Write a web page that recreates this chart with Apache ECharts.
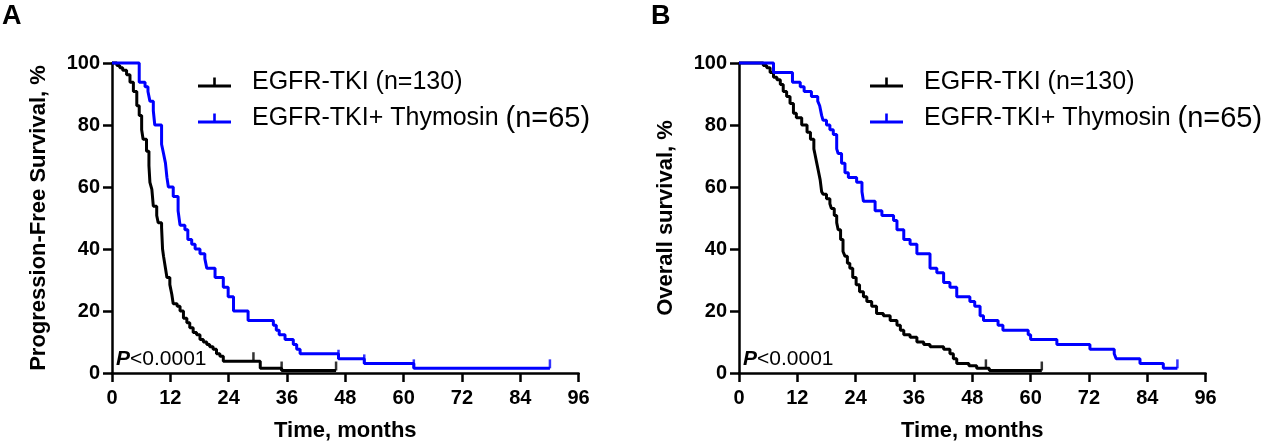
<!DOCTYPE html>
<html><head><meta charset="utf-8">
<script src="https://cdn.jsdelivr.net/npm/echarts@6/dist/echarts.min.js"></script>
<style>html,body{margin:0;padding:0;background:#fff}#c{width:1265px;height:445px}</style>
</head><body><div id="c"></div>
<script>
// ---------- data ----------
const groupNames = ['EGFR-TKI', 'EGFR-TKI+ Thymosin'];
const groupN = ['(n=130)', '(n=65)'];
const panelLetters = ['A', 'B'];
const yTitles = ['Progression-Free Survival, %', 'Overall survival, %'];
const xTitle = 'Time, months';
const pText = ['P', '<0.0001'];
const xTicks = [0, 12, 24, 36, 48, 60, 72, 84, 96];
const yTicks = [0, 20, 40, 60, 80, 100];

// Kaplan-Meier steps: [time (months), survival % after the drop]
const pfsEgfr = [[0,100],[1.0,99.2],[1.6,98.5],[2.2,97.7],[3.0,96.2],[3.7,93.8],[4.4,90.8],[5.1,86.2],[5.6,83.1],[6.1,78.5],[6.4,75.4],[7.1,71.5],[7.6,66.9],[7.8,61.5],[8.2,59.2],[8.5,53.8],[9.2,50.8],[9.5,48.5],[10.2,46.9],[10.4,40.0],[10.6,37.7],[11.0,33.8],[11.3,30.8],[11.9,28.5],[12.3,25.4],[12.6,22.3],[13.4,21.5],[14.0,20.0],[14.7,17.7],[15.4,16.2],[16.0,14.6],[16.7,13.1],[17.4,12.3],[18.1,10.8],[18.8,10.0],[19.5,9.2],[20.1,8.5],[20.8,7.7],[21.5,6.2],[22.2,5.4],[22.9,3.8],[30.5,1.5],[34.9,0.8],[46.1,0.8]];
const pfsThy = [[0,100],[5.6,93.8],[6.8,92.3],[7.4,90.8],[7.8,87.7],[8.5,84.6],[8.8,80.0],[10.2,73.8],[10.6,70.8],[11.0,67.7],[11.3,63.1],[11.6,60.0],[12.6,56.9],[13.6,52.3],[14.0,47.7],[15.0,46.2],[15.6,43.1],[16.4,41.5],[17.1,40.0],[18.1,38.5],[19.1,36.9],[19.5,33.8],[21.2,30.8],[22.9,27.7],[23.9,24.6],[25.0,20.0],[28.0,16.9],[33.2,15.4],[33.8,13.8],[34.4,12.3],[35.6,10.8],[37.3,9.2],[38.0,7.7],[38.7,6.2],[46.6,4.6],[51.9,3.1],[62.1,1.5],[90.1,1.5]];
const osEgfr = [[0,100],[5.0,99.2],[5.7,98.5],[6.4,96.9],[7.1,95.4],[7.8,94.6],[8.5,93.1],[9.1,90.8],[9.8,89.2],[10.5,86.9],[11.2,83.8],[11.8,82.3],[12.9,80.0],[14.0,77.7],[14.7,75.4],[15.4,72.3],[15.6,70.8],[16.0,67.7],[16.3,65.4],[16.7,62.3],[17.0,58.5],[17.3,57.7],[18.0,56.2],[18.7,54.6],[19.0,53.1],[19.6,50.8],[20.1,48.5],[20.4,46.2],[20.9,43.1],[21.4,39.2],[21.8,37.7],[22.3,35.4],[22.8,33.8],[23.4,30.8],[24.1,28.5],[24.8,26.2],[25.6,24.6],[26.3,23.1],[27.3,21.5],[28.3,19.2],[29.7,18.5],[31.1,16.9],[32.5,15.4],[33.2,13.8],[33.9,12.3],[35.2,11.5],[36.6,10.0],[38.0,9.2],[39.3,8.5],[42.1,7.7],[43.4,6.2],[44.1,4.6],[44.8,3.1],[47.3,2.3],[48.9,1.5],[51.5,0.8],[62.3,0.8]];
const osThy = [[0,100],[7.1,96.9],[11.0,93.8],[12.6,92.3],[13.4,90.8],[14.9,89.2],[16.2,87.7],[16.6,86.2],[17.0,83.1],[17.3,81.5],[18.0,80.0],[18.7,78.5],[19.4,76.9],[20.1,72.3],[20.4,70.8],[21.1,67.7],[21.8,64.6],[22.5,63.1],[24.2,61.5],[25.3,58.5],[25.6,55.4],[28.0,52.3],[29.4,50.8],[31.8,49.2],[32.5,46.2],[33.9,43.1],[35.2,41.5],[36.6,38.5],[39.3,33.8],[40.7,32.3],[42.1,29.2],[43.4,27.7],[44.8,24.6],[47.5,23.1],[48.5,21.5],[49.6,18.5],[50.3,16.9],[53.3,15.4],[54.3,13.8],[59.5,12.3],[60.0,10.8],[65.4,9.2],[72.2,7.7],[77.2,6.2],[77.6,4.6],[82.5,3.1],[87.3,1.5],[90.2,1.5]];

// censored observation times (months)
const pfsEgfrCens = [29.1, 34.9, 46.1];
const pfsThyCens = [46.6, 51.9, 62.1, 90.1];
const osEgfrCens = [50.8, 62.3];
const osThyCens = [90.2];

// ---------- chart ----------
const colors = ['#000000', '#0000ff'];
const FONT = '"Liberation Sans", Arial, sans-serif';
function survAt(curve, t) { let s = 100; for (const p of curve) { if (p[0] <= t) s = p[1]; } return s; }

const chart = echarts.init(document.getElementById('c'), null, {renderer: 'canvas'});
const gridLeft = [112, 739];
const legendLeft = [198, 870];
const gridW = 466.6;
const curves = [[pfsEgfr, pfsThy], [osEgfr, osThy]];
const cens = [[pfsEgfrCens, pfsThyCens], [osEgfrCens, osThyCens]];

const grids = [], xAxes = [], yAxes = [], series = [], legends = [], graphics = [];
const legendIcon = 'path://M0,8L33,8L33,10.8L0,10.8Z M15.2,1L17.8,1L17.8,9L15.2,9Z';

for (let p = 0; p < 2; p++) {
  grids.push({left: gridLeft[p], top: 63, width: gridW, height: 310, containLabel: false, outerBoundsMode: 'none'});
  xAxes.push({
    type: 'value', gridIndex: p, min: xTicks[0], max: xTicks[xTicks.length - 1], interval: xTicks[1] - xTicks[0],
    name: xTitle, nameLocation: 'middle', nameGap: 47,
    nameTextStyle: {fontFamily: FONT, fontWeight: 'bold', fontSize: 22, color: '#000'},
    axisLine: {show: true, onZero: false, lineStyle: {color: '#000', width: 2.5}},
    axisTick: {show: true, length: 9, lineStyle: {color: '#000', width: 2.5}},
    axisLabel: {margin: 15, fontFamily: FONT, fontWeight: 'bold', fontSize: 20, color: '#000'},
    splitLine: {show: false}
  });
  yAxes.push({
    type: 'value', gridIndex: p, min: yTicks[0], max: yTicks[yTicks.length - 1], interval: yTicks[1] - yTicks[0],
    name: yTitles[p], nameLocation: 'middle', nameGap: 62, nameRotate: 90,
    nameTextStyle: {fontFamily: FONT, fontWeight: 'bold', fontSize: 22, color: '#000'},
    axisLine: {show: true, onZero: false, lineStyle: {color: '#000', width: 2.5}},
    axisTick: {show: true, length: 9, lineStyle: {color: '#000', width: 2.5}},
    axisLabel: {margin: 12, fontFamily: FONT, fontWeight: 'bold', fontSize: 20, color: '#000'},
    splitLine: {show: false}
  });
  for (let g = 0; g < 2; g++) {
    series.push({
      type: 'line', name: groupNames[g], xAxisIndex: p, yAxisIndex: p, step: 'end',
      data: curves[p][g], showSymbol: false, symbol: 'none', animation: false,
      lineStyle: {color: colors[g], width: 3}, itemStyle: {color: colors[g]}, z: 3 + g, clip: false
    });
    series.push({
      type: 'scatter', name: groupNames[g], xAxisIndex: p, yAxisIndex: p,
      data: cens[p][g].map(t => [t, survAt(curves[p][g], t)]),
      symbol: 'rect', symbolSize: [2.5, 9], symbolOffset: [0, -4.5], animation: false,
      itemStyle: {color: colors[g]}, z: 5, silent: true
    });
  }
  legends.push({
    orient: 'vertical', left: legendLeft[p], top: 70, padding: 0, itemWidth: 33, itemHeight: 10, itemGap: 9,
    selectedMode: false,
    data: groupNames.map(n => ({name: n, icon: legendIcon})),
    formatter: function (name) {
      return name === groupNames[0]
        ? '{a|' + name + ' ' + groupN[0] + '}'
        : '{a|' + name + ' }{b|' + groupN[1] + '}';
    },
    textStyle: {
      padding: [0, 0, 0, 16],
      rich: {
        a: {fontFamily: FONT, fontSize: 25, color: '#000', lineHeight: 28},
        b: {fontFamily: FONT, fontSize: 29, color: '#000', lineHeight: 28}
      }
    }
  });
  graphics.push({
    type: 'text', left: gridLeft[p] + 4, top: 349, z: 10,
    style: {
      text: '{i|' + pText[0] + '}{r|' + pText[1] + '}',
      rich: {
        i: {fontFamily: FONT, fontSize: 21, fontWeight: 'bold', fontStyle: 'italic', fill: '#000'},
        r: {fontFamily: FONT, fontSize: 21, fill: '#000'}
      }
    }
  });
  graphics.push({
    type: 'text', left: p === 0 ? 2 : 651, top: 3, z: 10,
    style: {text: panelLetters[p], fontFamily: FONT, fontSize: 27, fontWeight: 'bold', fill: '#000'}
  });
}

chart.setOption({
  backgroundColor: '#fff', animation: false,
  grid: grids, xAxis: xAxes, yAxis: yAxes, series: series, legend: legends, graphic: graphics
});
</script></body></html>
